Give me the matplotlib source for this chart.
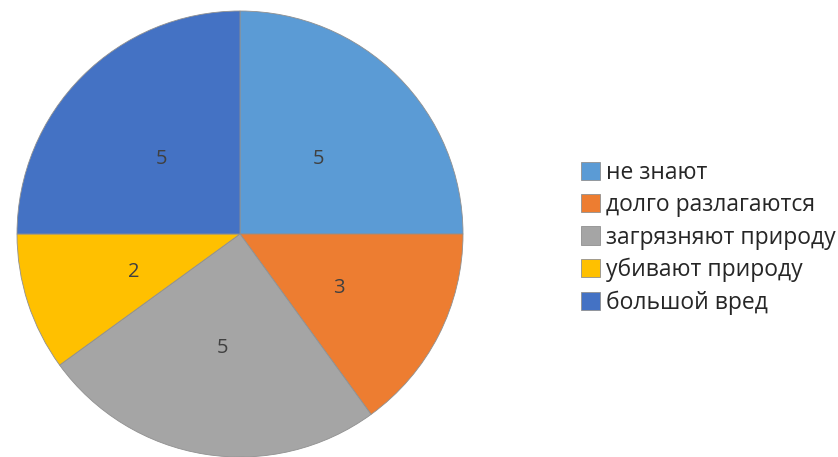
import matplotlib
matplotlib.use("Agg")
import matplotlib.pyplot as plt

categories = ["не знают", "долго разлагаются", "загрязняют природу", "убивают природу", "большой вред"]
values = [5, 3, 5, 2, 5]
colors = ["#5B9BD5", "#ED7D31", "#A5A5A5", "#FFC000", "#4472C4"]

plt.rcParams['font.family'] = ['Open Sans', 'DejaVu Sans']

W, H = 838, 457
fig = plt.figure(figsize=(W / 100, H / 100), dpi=100)
cx, cy, r = 240, 234, 223
ax = fig.add_axes([(cx - r) / W, (H - cy - r) / H, 2 * r / W, 2 * r / H])

wedges, texts, autotexts = ax.pie(
    values, colors=colors, startangle=90, counterclock=False,
    autopct=lambda p: f"{p * sum(values) / 100:.0f}", pctdistance=0.5,
    wedgeprops=dict(linewidth=0.6, edgecolor="#909090"),
    textprops=dict(color="#404040", fontsize=14.5))
for t in autotexts:
    x, y = t.get_position()
    t.set_position((x, y - 3.5 / r))
ax.set_xlim(-1, 1)
ax.set_ylim(-1, 1)
ax.set_aspect("equal")

leg = fig.legend(wedges, categories, loc="upper left",
                 bbox_to_anchor=(581 / W, 1 - 161 / H), frameon=False,
                 fontsize=16.5, handlelength=0.85, handleheight=0.85,
                 handletextpad=0.25, labelspacing=0.36, borderpad=0, borderaxespad=0)
for t in leg.get_texts():
    t.set_color("#262626")

fig.savefig("out.png", dpi=100, facecolor="white")
